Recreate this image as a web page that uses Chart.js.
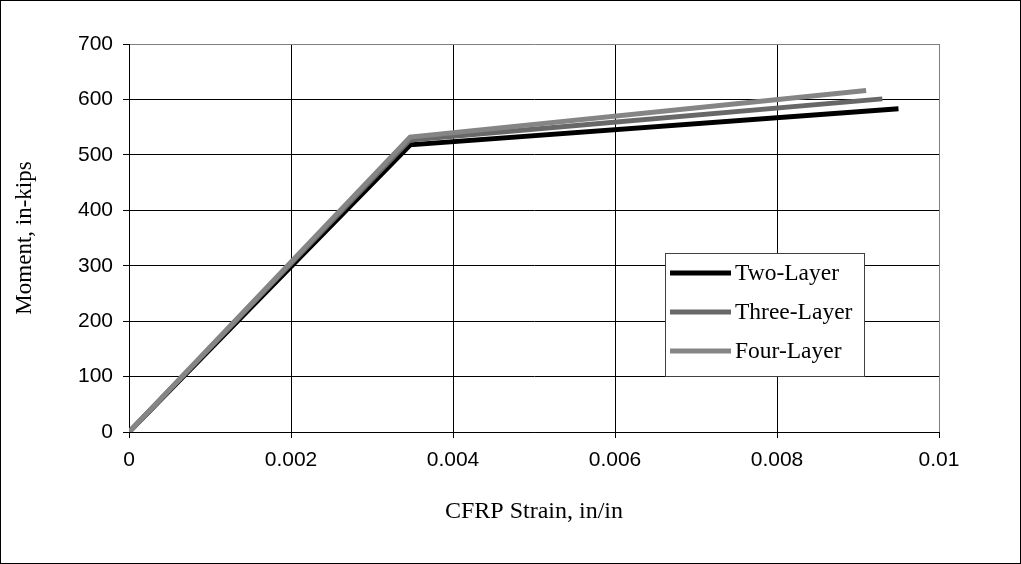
<!DOCTYPE html>
<html>
<head>
<meta charset="utf-8">
<script src="https://cdn.jsdelivr.net/npm/chart.js@4.4.1/dist/chart.umd.min.js"></script>
<style>
    html, body { margin: 0; padding: 0; background: #fff; }
    #wrap { position: relative; width: 1021px; height: 564px; }
</style>
</head>
<body>
<div id="wrap"><canvas id="chart-strain" width="1021" height="564"></canvas></div>

<script>
    // values (strain in/in, moment in-kips)
    const seriesNames = ['Two-Layer', 'Three-Layer', 'Four-Layer'];
    const strainTwo = [0, 0.00347, 0.0095];
    const momentTwo = [0, 518, 583];
    const strainThree = [0, 0.00347, 0.0093];
    const momentThree = [0, 527, 601];
    const strainFour = [0, 0.00347, 0.0091];
    const momentFour = [0, 532, 616];
    const xTicks = [0, 0.002, 0.004, 0.006, 0.008, 0.01];
    const yTicks = [0, 100, 200, 300, 400, 500, 600, 700];

    const lineColors = ['#000000', '#686868', '#858585'];

    function toPoints(xs, ys) {
        return xs.map((x, i) => ({ x: x, y: ys[i] }));
    }

    const seriesData = [
        toPoints(strainTwo, momentTwo),
        toPoints(strainThree, momentThree),
        toPoints(strainFour, momentFour)
    ];

    const datasets = seriesNames.map((name, i) => ({
        label: name,
        data: seriesData[i],
        borderColor: lineColors[i],
        backgroundColor: lineColors[i],
        borderWidth: 5,
        pointRadius: 0,
        showLine: true,
        fill: false,
        tension: 0,
        order: 3 - i
    }));

    // legend box inside the plot + outer frame
    const boxLegend = {
        id: 'boxLegend',
        afterDraw(chart) {
            const c = chart.ctx;
            c.save();
            c.strokeStyle = '#000';
            c.lineWidth = 1;
            c.strokeRect(0.5, 0.5, chart.width - 1, chart.height - 1);

            const bx = 665, by = 253, bw = 199, bh = 123;
            c.fillStyle = '#fff';
            c.fillRect(bx, by, bw, bh);
            c.strokeStyle = '#404040';
            c.strokeRect(bx + 0.5, by + 0.5, bw, bh);

            c.font = '23.5px "Liberation Serif", "Times New Roman", serif';
            c.textBaseline = 'middle';
            c.textAlign = 'left';
            chart.data.datasets.forEach((ds, i) => {
                const y = by + 20 + i * 39;
                c.strokeStyle = ds.borderColor;
                c.lineWidth = 5;
                c.beginPath();
                c.moveTo(670, y);
                c.lineTo(731, y);
                c.stroke();
                c.fillStyle = '#000';
                c.fillText(ds.label, 735, y + 1);
            });
            c.restore();
        }
    };

    const ctx = document.getElementById('chart-strain').getContext('2d');

    new Chart(ctx, {
        type: 'scatter',
        data: { datasets: datasets },
        options: {
            responsive: false,
            animation: false,
            layout: { padding: { left: 0, top: 44, right: 82, bottom: 0 } },
            plugins: {
                legend: { display: false },
                tooltip: { enabled: false }
            },
            scales: {
                x: {
                    type: 'linear',
                    min: 0,
                    max: 0.01,
                    afterBuildTicks: (scale) => { scale.ticks = xTicks.map(v => ({ value: v })); },
                    afterFit: (scale) => { scale.height = 132; },
                    ticks: {
                        color: '#000',
                        padding: 10,
                        maxRotation: 0,
                        font: { family: '"Liberation Sans", Arial, sans-serif', size: 21 },
                        callback: (v) => String(v)
                    },
                    grid: {
                        color: (c) => (c.tick && c.tick.value === 0.01 ? '#808080' : '#000'),
                        tickColor: '#000',
                        tickLength: 6,
                        lineWidth: 1
                    },
                    border: { color: '#000', width: 1 },
                    title: {
                        display: true,
                        text: 'CFRP Strain, in/in',
                        color: '#000',
                        font: { family: '"Liberation Serif", "Times New Roman", serif', size: 24 },
                        padding: { top: 0, bottom: 38 }
                    }
                },
                y: {
                    type: 'linear',
                    min: 0,
                    max: 700,
                    afterBuildTicks: (scale) => { scale.ticks = yTicks.map(v => ({ value: v })); },
                    afterFit: (scale) => { scale.width = 129; },
                    ticks: {
                        color: '#000',
                        padding: 10,
                        font: { family: '"Liberation Sans", Arial, sans-serif', size: 21 }
                    },
                    grid: {
                        color: (c) => (c.tick && c.tick.value === 700 ? '#808080' : '#000'),
                        tickColor: '#000',
                        tickLength: 6,
                        lineWidth: 1
                    },
                    border: { color: '#000', width: 1 },
                    title: {
                        display: true,
                        text: 'Moment, in-kips',
                        color: '#000',
                        font: { family: '"Liberation Serif", "Times New Roman", serif', size: 23 },
                        padding: { top: 11, bottom: 0 }
                    }
                }
            }
        },
        plugins: [boxLegend]
    });
</script>
</body>
</html>
